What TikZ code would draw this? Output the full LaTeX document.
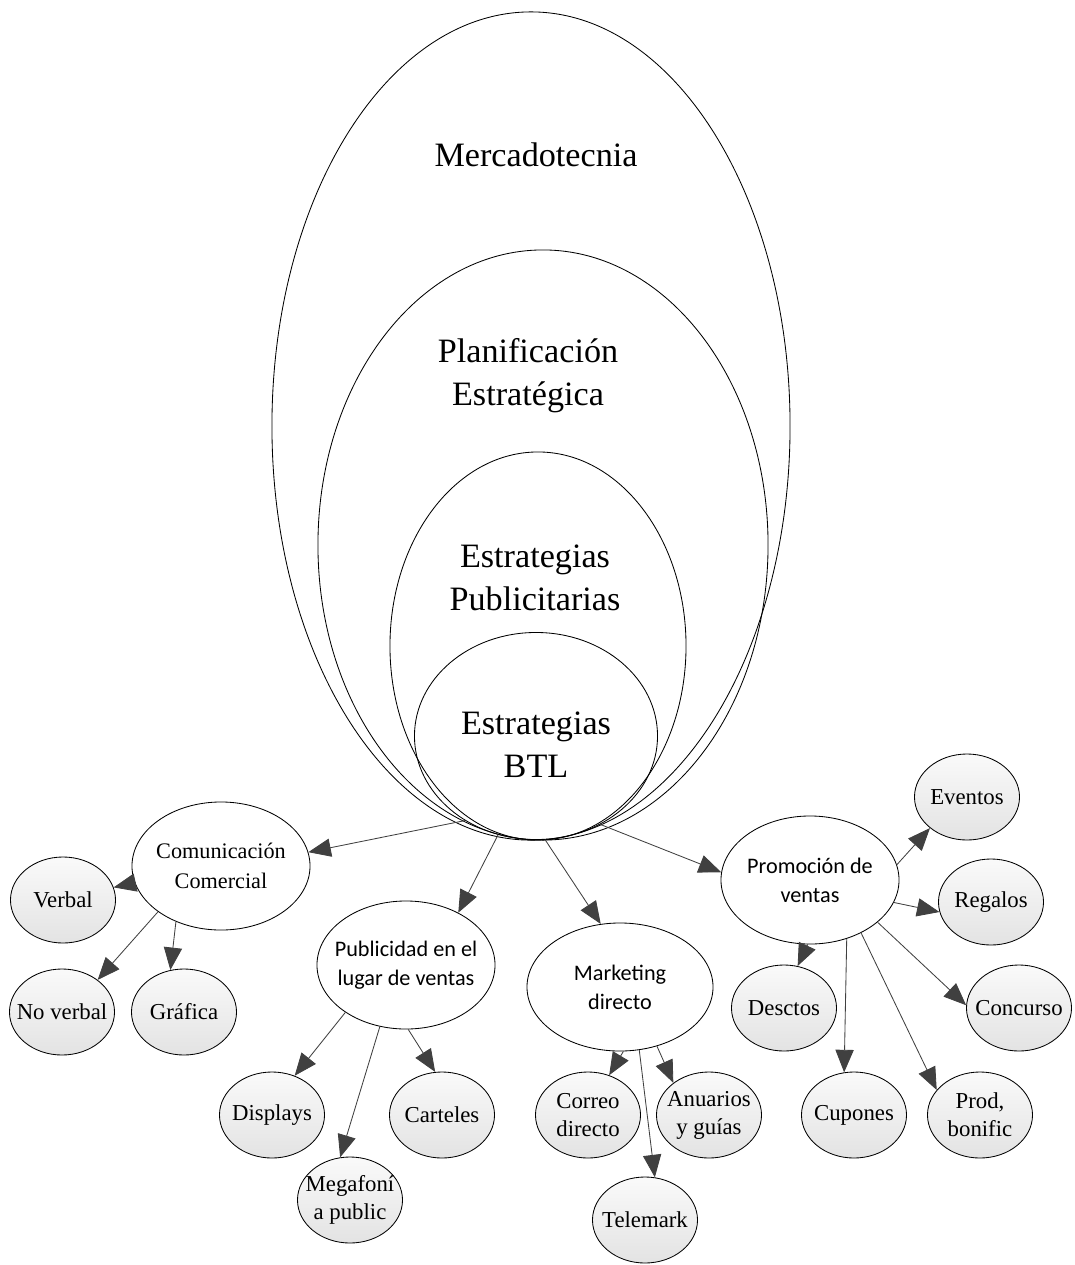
\documentclass[tikz,border=0pt]{standalone}
\usepackage{fontspec}
\setmainfont{Liberation Serif}
\newfontfamily\calibrifont{Carlito}
\usetikzlibrary{arrows.meta, shapes.geometric}

\begin{document}
\begin{tikzpicture}[
    x=0.025cm, y=-0.025cm,
    arr/.style={-{Triangle[length=16pt, width=13pt]}, draw=black!75, line width=0.6pt},
    ring/.style={ellipse, draw, line width=0.6pt, inner sep=0pt},
    bigtext/.style={font=\fontsize{24.3}{30.5}\selectfont, align=center},
    mid/.style={ellipse, draw, fill=white, line width=0.6pt, inner xsep=-0.3cm, inner ysep=0pt, minimum width=4.45cm, minimum height=3.2cm, align=center, font=\fontsize{15.8}{21}\selectfont},
    midsans/.style={mid, font=\calibrifont\fontsize{15.8}{20.5}\selectfont},
    leaf/.style={ellipse, draw, top color=gray!4, bottom color=gray!22, line width=0.6pt, inner xsep=-0.25cm, inner ysep=0pt, minimum width=2.625cm, minimum height=2.15cm, align=center, font=\fontsize{16.2}{20}\selectfont},
]
\useasboundingbox (0,0) rectangle (1074,1265);

% ============ Nested ellipses ============
\node[ring, minimum width=12.95cm, minimum height=20.7cm] (merc) at (531,426) {};
\node[ring, minimum width=11.25cm, minimum height=14.75cm] (plan) at (543,545) {};
\node[ring, minimum width=7.4cm, minimum height=9.7cm] (publ) at (538,646) {};
\node[ring, minimum width=6.075cm, minimum height=5.175cm] (btl) at (536,736) {};

\node[bigtext] (merc-t) at (536,155) {Mercadotecnia};
\node[bigtext] (plan-t) at (528,376) {Planificación\\Estratégica};
\node[bigtext] (publ-t) at (535,578) {Estrategias\\Publicitarias};
\node[bigtext] (btl-t) at (536,745) {Estrategias\\BTL};

% ============ BTL branches ============
\node[mid] (com) at (221,866) {Comunicación\\Comercial};
\node[midsans] (pub) at (406,965) {Publicidad en el\\lugar de ventas};
\node[midsans, minimum width=4.65cm] (mkt) at (620,987) {Marketing\\directo};
\node[midsans] (pro) at (810,880) {Promoción de\\ventas};

\draw[arr] (btl.230) -- (com.9);
\draw[arr] (btl.249) -- (pub.45);
\draw[arr] (btl.275) -- (mkt.107);
\draw[arr] (btl.306) -- (pro.175);

% Comunicación comercial
\node[leaf] (verbal) at (63,900) {Verbal};
\node[leaf] (noverbal) at (62,1012) {No verbal};
\node[leaf] (grafica) at (184,1012) {Gráfica};

\draw[arr] (com.191) -- (verbal.14);
\draw[arr] (com.216) -- (noverbal.42);
\draw[arr] (com.231) -- (grafica.108);

% Publicidad en el lugar de ventas
\node[leaf] (displays) at (272,1115) {Displays};
\node[leaf] (megafonia) at (350,1200) {Megafoní\\a public};
\node[leaf] (carteles) at (442,1115) {Carteles};

\draw[arr] (pub.218) -- (displays.60);
\draw[arr] (pub.247) -- (megafonia.103);
\draw[arr] (pub.272) -- (carteles.99);

% Marketing directo
\node[leaf] (correo) at (588,1115) {Correo\\directo};
\node[leaf] (anuarios) at (709,1115) {Anuarios\\y guías};
\node[leaf] (telemark) at (645,1220) {Telemark};

\draw[arr] (mkt.273) -- (correo.62);
\draw[arr] (mkt.287) -- (telemark.77);
\draw[arr] (mkt.302) -- (anuarios.138);

% Promoción de ventas
\node[leaf] (eventos) at (967,797) {Eventos};
\node[leaf] (regalos) at (991,902) {Regalos};
\node[leaf] (desctos) at (784,1008) {Desctos};
\node[leaf] (concurso) at (1019,1008) {Concurso};
\node[leaf] (cupones) at (854,1115) {Cupones};
\node[leaf] (prod) at (980,1115) {Prod,\\bonific};

\draw[arr] (pro.10) -- (eventos.220);
\draw[arr] (pro.345) -- (regalos.191);
\draw[arr] (pro.268) -- (desctos.72);
\draw[arr] (pro.302) -- (cupones.103);
\draw[arr] (pro.314) -- (prod.150);
\draw[arr] (pro.328) -- (concurso.177);

\end{tikzpicture}
\end{document}
